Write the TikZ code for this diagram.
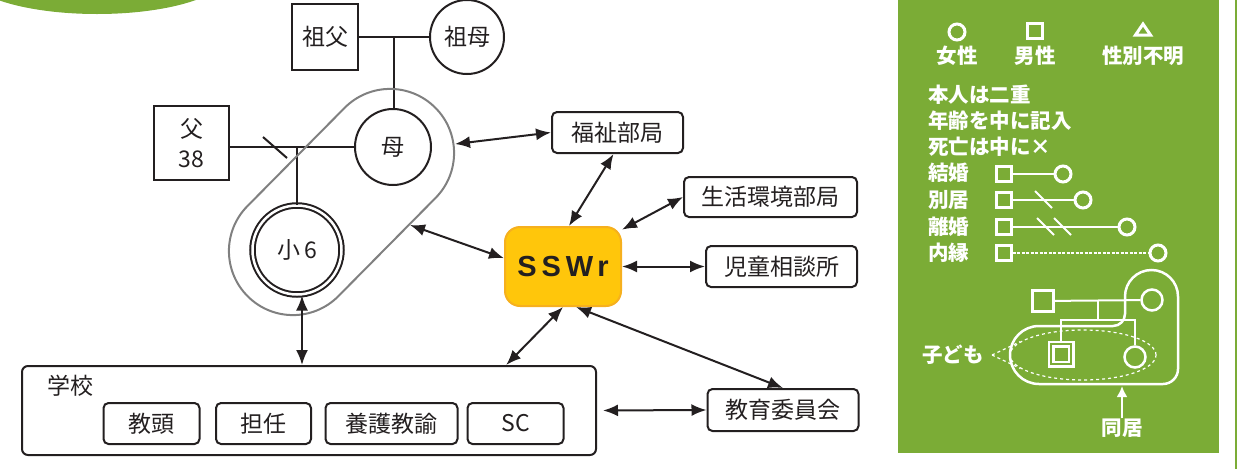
\documentclass[tikz,border=0pt]{standalone}
\usepackage{fontspec}
\setmainfont{Noto Sans CJK JP}
\newfontfamily\sswfont{Liberation Sans}
\usetikzlibrary{arrows.meta,calc,shapes.geometric}

\definecolor{leafgreen}{RGB}{123,172,54}
\definecolor{sswyellow}{RGB}{255,198,11}
\definecolor{sswedge}{RGB}{246,176,30}
\definecolor{ink}{RGB}{35,31,32}
\definecolor{ringgray}{RGB}{128,128,128}

\begin{document}
\begin{tikzpicture}[x=1pt,y=-1pt]
\tikzstyle{person}=[draw=ink, line width=2pt, inner sep=0pt, text=ink, font=\fontsize{23}{30}\selectfont]
\tikzstyle{male}=[person, rectangle, minimum size=66pt]
\tikzstyle{female}=[person, circle, minimum size=76pt]
\tikzstyle{agency}=[draw=ink, line width=2pt, rounded corners=5pt, minimum height=41pt, inner sep=0pt, text=ink, font=\fontsize{23}{28}\selectfont]
\tikzstyle{kin}=[draw=ink, line width=2pt]
\tikzstyle{connect}=[{Latex[length=15pt,width=12pt]}-{Latex[length=15pt,width=12pt]}, draw=ink, line width=2pt]
\tikzstyle{legline}=[draw=white, line width=2pt]
\tikzstyle{lmale}=[draw=white, line width=3pt, rectangle, minimum size=15pt, inner sep=0pt]
\tikzstyle{lfemale}=[draw=white, line width=3pt, circle, minimum size=16pt, inner sep=0pt]
\tikzstyle{legtext}=[text=white, inner sep=0pt, font=\bfseries\fontsize{20.5}{22}\selectfont]
\useasboundingbox (0,0) rectangle (1245,469);
\clip (0,0) rectangle (1245,469);
% corner badge
\fill[leafgreen] (97,-26) ellipse [x radius=130, y radius=40];

% family
\node[male] (sofu) at (325,37) {祖父};
\node[female, minimum size=74pt] (sobo) at (467,37) {祖母};
\node[female] (haha) at (393,147) {母};
\node[male, minimum width=75pt, minimum height=74pt, align=center] (chichi) at (191.5,143) {父\\38};
\node[female, minimum size=89pt, double=white, double distance=2.5pt] (jido6) at (297,250) {小\hspace{4pt}6};
\coordinate (gp) at ($(sofu.east)!0.5!(sobo.west)$);
\draw[kin] (sofu.east) -- (sobo.west);
\draw[kin] (gp) -- (gp |- haha.north);
\draw[kin] (chichi.east |- haha.west) -- (haha.west);
\draw[kin] (jido6.north |- haha.west) -- (jido6.north);
\coordinate (sep) at (275,147.5);
\draw[kin] ([shift={(-12,-10.5)}]sep) -- ([shift={(12,10.5)}]sep);
\node[draw=ringgray, line width=2pt, rounded corners=63.9pt, minimum width=266pt, minimum height=128pt, rotate=45.3] (dokyo) at (341.5,202) {};
\coordinate (dokyoR) at (455,144);
\coordinate (dokyoL) at (410,225);

% agencies
\node[draw=sswedge, fill=sswyellow, line width=2pt, rounded corners=15pt, minimum width=116pt, minimum height=79pt, text=ink, font=\sswfont\bfseries\fontsize{29}{30}\selectfont] (ssw) at (563,266.5) {S\kern5pt S\kern5pt W\kern4pt r};
\node[agency, minimum width=131pt] (fukushi) at (617.5,132.5) {福祉部局};
\node[agency, minimum width=173pt, minimum height=40pt] (seikatsu) at (770.5,197) {生活環境部局};
\node[agency, minimum width=151pt] (jidosodan) at (781.5,266.5) {児童相談所};
\node[agency, minimum width=151pt, minimum height=42pt] (kyoiku) at (783,410) {教育委員会};

% school
\node[agency, rounded corners=6pt, minimum width=574pt, minimum height=89pt] (school) at (309,410.5) {};
\node[text=ink, inner sep=0pt, font=\fontsize{23}{28}\selectfont] (gakko) at (70,386) {学校};
\node[agency, minimum width=96pt] (kyoto) at (151.5,423.5) {教頭};
\node[agency, minimum width=95pt] (tannin) at (263.5,423.5) {担任};
\node[agency, minimum width=132pt] (yogo) at (391.5,423.5) {養護教諭};
\node[agency, minimum width=96pt] (sc) at (515.5,423.5) {SC};

\path
  (dokyoR) edge [connect] (fukushi.west)
  ([xshift=-4pt]fukushi.south) edge [connect] ([xshift=6pt]ssw.north)
  (seikatsu.west) edge [connect] (ssw.32)
  (dokyoL) edge [connect] (ssw.172)
  (ssw.east) edge [connect] (jidosodan.west)
  (ssw.south) edge [connect] (school.13.7)
  ([xshift=13pt]ssw.south) edge [connect] (kyoiku.north)
  ([xshift=5pt]jido6.south) edge [connect] ([xshift=5pt]jido6.south |- school.north)
  (school.east) edge [connect, shorten <=6pt] (kyoiku.west);

% legend
\fill[leafgreen] (898,0) rectangle (1219,453);
\draw[leafgreen, line width=2.5pt] (1236,0) -- (1236,469);
\node[lfemale] (symf) at (957,32) {};
\node[lmale] (symm) at (1035,31) {};
\draw[white, line width=3pt, line join=miter] (1143,24) -- (1135.5,35) -- (1150.5,35) -- cycle;
\node[legtext] at (957,56) {女性};
\node[legtext] at (1035,56) {男性};
\node[legtext] at (1143,56) {性別不明};
\node[legtext, anchor=west] at (928,95) {本人は二重};
\node[legtext, anchor=west] at (928,121) {年齢を中に記入};
\node[legtext, anchor=west] at (928,147) {死亡は中に×};
\node[legtext, anchor=west] at (928,173) {結婚};
\node[legtext, anchor=west] at (928,200) {別居};
\node[legtext, anchor=west] at (928,227) {離婚};
\node[legtext, anchor=west] at (928,253) {内縁};
\node[lmale] (km) at (1003.5,174) {};
\node[lfemale] (kf) at (1063,174) {};
\draw[legline] (km) -- (kf);
\node[lmale] (bm) at (1003.5,200) {};
\node[lfemale] (bf) at (1083,200) {};
\draw[legline] (bm) -- (bf);
\draw[legline] (1035,191) -- (1052,208);
\node[lmale] (rm) at (1003.5,227) {};
\node[lfemale] (rf) at (1127,227) {};
\draw[legline] (rm) -- (rf);
\draw[legline] (1037,218) -- (1054,235);
\draw[legline] (1054,218) -- (1071,235);
\node[lmale] (nm) at (1003.5,253) {};
\node[lfemale] (nf) at (1158,253) {};
\draw[white, line width=1.5pt, dash pattern=on 3pt off 1.5pt] (nm) -- (nf);

% legend family
\node[lmale, line width=2.5pt, minimum size=21pt] (lfa) at (1043,301) {};
\node[lfemale, line width=2.5pt, minimum size=21pt] (lmo) at (1152,300) {};
\node[lmale, line width=2.5pt, minimum size=20pt, double=leafgreen, double distance=2pt] (lson) at (1061,354) {};
\node[lfemale, line width=2.5pt, minimum size=21pt] (ldau) at (1135,357) {};
\draw[legline] (lfa) -- (lmo);
\coordinate (lc) at (1098,300);
\coordinate (lk) at (1098,320);
\draw[legline] (lc) -- (lk);
\draw[legline] (lson.north) -- (lson.north |- lk) -- (ldau.north |- lk) -- (ldau.north);
\draw[white, line width=2.5pt] (1113,326) -- (1039,326) arc[start angle=270, end angle=90, radius=29] -- (1163,384) arc[start angle=90, end angle=0, radius=15] -- (1178,296.5) arc[start angle=0, end angle=-180, radius=26.5] -- (1125,314) arc[start angle=0, end angle=90, radius=12];
\node[draw=white, dashed, line width=1.2pt, ellipse, minimum width=146pt, minimum height=50pt, inner sep=0pt] (kodomo) at (1083,355) {};
\node[legtext] (kodomolabel) at (953,355) {子ども};
\coordinate (kodomotip) at (992,355);
\draw[white, dashed, line width=1.2pt] (kodomotip) -- (kodomo.168);
\draw[white, dashed, line width=1.2pt] (kodomotip) -- (kodomo.192);
\node[legtext] (dokyolabel) at (1122,428) {同居};
\coordinate (dokyobot) at (1122,386);
\draw[white, line width=2.5pt, -{Latex[length=11pt,width=11pt]}] (dokyolabel.north) -- (dokyobot);
\end{tikzpicture}
\end{document}
